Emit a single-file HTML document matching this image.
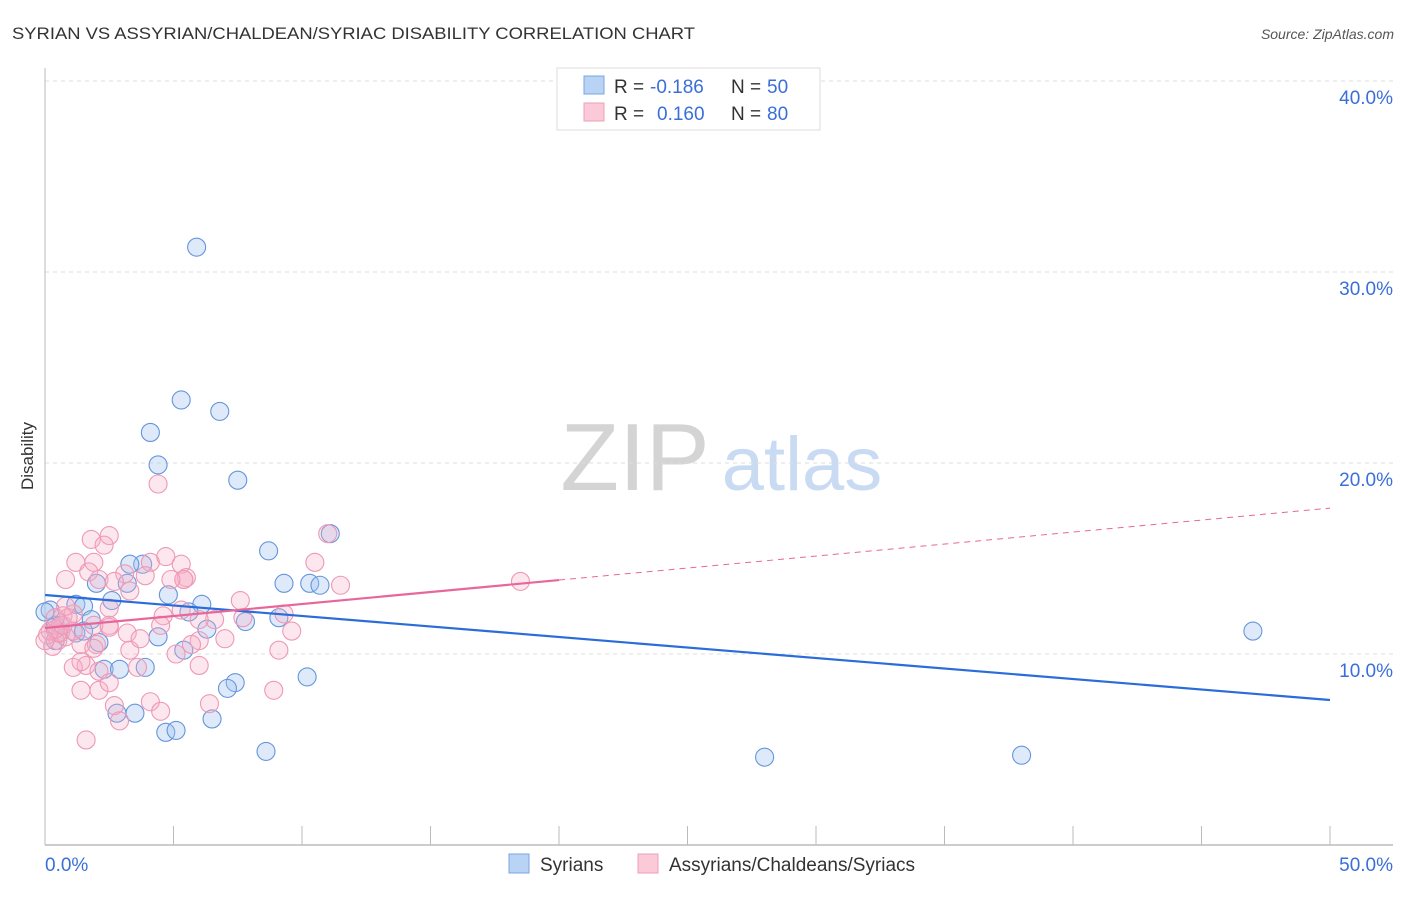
<!DOCTYPE html>
<html><head><meta charset="utf-8"><style>
body{margin:0;background:#fff;font-family:"Liberation Sans",sans-serif}
svg text{font-family:"Liberation Sans",sans-serif}
</style></head><body>
<svg id="c" width="1406" height="892" xmlns="http://www.w3.org/2000/svg">
<text x="12" y="39" font-size="17" fill="#333" textLength="683" lengthAdjust="spacingAndGlyphs">SYRIAN VS ASSYRIAN/CHALDEAN/SYRIAC DISABILITY CORRELATION CHART</text>
<text x="1394" y="39" font-size="14" fill="#555" font-style="italic" text-anchor="end">Source: ZipAtlas.com</text>
<g>
<text x="635" y="490" font-size="96" fill="#d4d4d4" text-anchor="middle" font-family="Liberation Serif">ZIP</text>
<text x="802" y="490" font-size="76" fill="#c9daf3" text-anchor="middle">atlas</text>
</g>
<g id="grid"></g>
<g id="axes"></g>
<g id="pts"></g>
<g id="trend"></g>
<text x="33" y="456" font-size="17" fill="#333" text-anchor="middle" transform="rotate(-90 33 456)">Disability</text>
<g>
<rect x="557" y="68" width="263" height="62" fill="#fff" stroke="#ddd"/>
<rect x="584" y="76" width="20" height="18" fill="#b9d3f5" stroke="#7aa6e0"/>
<rect x="584" y="103" width="20" height="18" fill="#fbc9d8" stroke="#eea0b8"/>
<text x="614" y="93" font-size="19" fill="#333">R =</text>
<text x="650" y="93" font-size="19" fill="#3a6fd8">-0.186</text>
<text x="731" y="93" font-size="19" fill="#333">N =</text>
<text x="767" y="93" font-size="19" fill="#3a6fd8">50</text>
<text x="614" y="120" font-size="19" fill="#333">R =</text>
<text x="657" y="120" font-size="19" fill="#3a6fd8">0.160</text>
<text x="731" y="120" font-size="19" fill="#333">N =</text>
<text x="767" y="120" font-size="19" fill="#3a6fd8">80</text>
</g>
<g>
<rect x="509" y="854" width="20" height="19" fill="#b9d3f5" stroke="#7aa6e0"/>
<text x="540" y="871" font-size="19" fill="#333">Syrians</text>
<rect x="638" y="854" width="20" height="19" fill="#fbc9d8" stroke="#eea0b8"/>
<text x="669" y="871" font-size="19" fill="#333">Assyrians/Chaldeans/Syriacs</text>
</g>
</svg>
<script>
const yTicks=[10,20,30,40];
const xTickLabels=["0.0%","50.0%"];
const blueX=[5.9,5.3,6.8,4.1,4.4,7.5,11.1,8.7,9.3,10.3,10.7,3.8,3.3,2.0,3.2,2.6,4.8,6.1,5.6,9.1,7.8,6.3,0.4,1.2,1.5,2.1,4.4,5.4,2.3,2.9,3.9,10.2,7.4,7.1,6.5,3.5,4.7,5.1,8.6,28.0,38.0,47.0,0.2,0.6,1.8,0.4,1.2,1.5,2.8,0.0];
const blueY=[31.3,23.3,22.7,21.6,19.9,19.1,16.3,15.4,13.7,13.7,13.6,14.7,14.7,13.7,13.7,12.8,13.1,12.6,12.2,11.9,11.7,11.3,11.5,12.6,12.5,10.6,10.9,10.2,9.2,9.2,9.3,8.8,8.5,8.2,6.6,6.9,5.9,6.0,4.9,4.6,4.7,11.2,12.3,11.5,11.8,10.7,11.1,11.2,6.9,12.2];
const pinkX=[4.4,11.0,1.8,2.5,2.3,1.2,1.9,4.1,4.7,5.3,5.5,3.9,3.1,1.7,0.8,2.1,2.7,3.3,0.7,2.5,1.1,2.5,4.6,5.3,6.6,7.7,9.3,9.6,10.5,11.5,18.5,5.4,6.0,5.7,5.1,6.0,7.0,3.2,0.5,0.3,1.4,0.1,0.6,0.8,1.1,0.5,1.6,1.1,1.4,3.6,3.3,2.0,8.9,6.4,4.1,4.5,2.7,2.9,2.1,1.4,1.6,2.1,5.4,1.9,2.5,0.2,0.4,0.7,0.0,0.9,1.9,4.9,7.6,9.1,2.5,3.7,6.0,0.4,0.8,4.5];
const pinkY=[18.9,16.3,16.0,16.2,15.7,14.8,14.8,14.8,15.1,14.7,14.0,14.1,14.2,14.3,13.9,13.9,13.8,13.3,12.0,12.4,12.1,11.5,12.0,12.3,11.8,11.9,12.1,11.2,14.8,13.6,13.8,13.9,10.7,10.5,10.0,9.4,10.8,11.1,10.7,10.4,10.5,11.0,11.1,10.9,11.2,11.1,9.4,9.3,9.6,9.3,10.2,10.5,8.1,7.4,7.5,7.0,7.3,6.5,8.1,8.1,5.5,9.1,13.9,11.5,11.4,11.2,11.3,11.5,10.7,11.9,10.3,13.9,12.8,10.2,8.5,10.8,11.8,11.9,12.5,11.5];
const blueTrend=[13.09,7.59];
const pinkTrend=[11.36,17.64];
const pinkSolidEnd=20;
const NS="http://www.w3.org/2000/svg";
const X=v=>45+v*25.7, Y=v=>845-v*19.1;
function mk(t,a,p){const e=document.createElementNS(NS,t);for(const k in a)e.setAttribute(k,a[k]);p.appendChild(e);return e;}
const grid=document.getElementById('grid');
yTicks.forEach(t=>{
 const l=mk('line',{x1:45,x2:1393,y1:Y(t),y2:Y(t),stroke:'#ddd','stroke-dasharray':'4 4'},grid);
 
 
 const tx=mk('text',{x:1393,y:Y(t)+23,'font-size':19,fill:'#3a6fd8','text-anchor':'end'},grid);
 tx.textContent=t.toFixed(1)+'%';
 
 
});
const ax=document.getElementById('axes');
const ya=mk('line',{x1:45,x2:45,y1:68,y2:845,stroke:'#bbb'},ax);


const xa=mk('line',{x1:45,x2:1393,y1:845,y2:845,stroke:'#bbb','stroke-width':1.5},ax);


for(let i=0;i<=10;i++){const t=mk('line',{x1:X(i*5),x2:X(i*5),y1:826,y2:845,stroke:'#bbb'},ax);
 
 }
[[0,45,'start'],[50,1393,'end']].forEach((d,i)=>{const t=mk('text',{x:d[1],y:871,'font-size':19,fill:'#3a6fd8','text-anchor':d[2]},ax);t.textContent=xTickLabels[i];
 
 });
const pts=document.getElementById('pts');
blueX.forEach((x,i)=>{const c=mk('circle',{cx:X(x),cy:Y(blueY[i]),r:9,fill:'rgba(160,195,240,0.35)',stroke:'#6595dc','stroke-width':1.1},pts);
 
 });
pinkX.forEach((x,i)=>{const c=mk('circle',{cx:X(x),cy:Y(pinkY[i]),r:9,fill:'rgba(245,175,198,0.3)',stroke:'#ee98b5','stroke-width':1.1},pts);
 
 });
const tr=document.getElementById('trend');
const bl=mk('line',{x1:X(0),y1:Y(blueTrend[0]),x2:X(50),y2:Y(blueTrend[1]),stroke:'#2a6dd9','stroke-width':2.2},tr);


const pv=x=>pinkTrend[0]+(pinkTrend[1]-pinkTrend[0])*x/50;
const ps=mk('line',{x1:X(0),y1:Y(pv(0)),x2:X(pinkSolidEnd),y2:Y(pv(pinkSolidEnd)),stroke:'#e8679a','stroke-width':2.2},tr);


const pd=mk('line',{x1:X(pinkSolidEnd),y1:Y(pv(pinkSolidEnd)),x2:X(50),y2:Y(pv(50)),stroke:'#e8679a','stroke-width':1,'stroke-dasharray':'6 5'},tr);


</script>
</body></html>
